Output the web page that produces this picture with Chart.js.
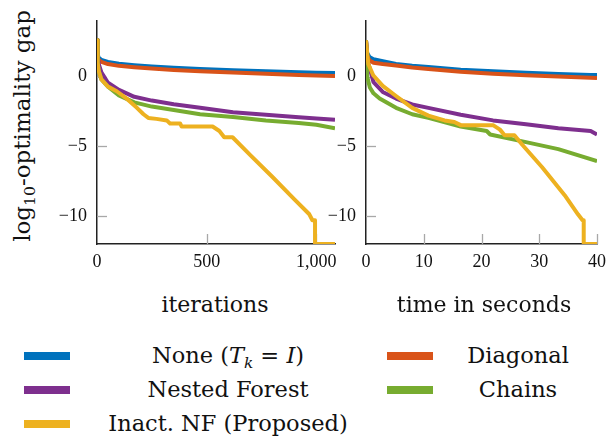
<!DOCTYPE html>
<html>
<head>
<meta charset="utf-8">
<script src="https://cdn.jsdelivr.net/npm/chart.js@4.4.0/dist/chart.umd.min.js"></script>
<style>
  body { margin: 0; width: 613px; height: 440px; background: #fff; position: relative; overflow: hidden; color: #111;
         font-family: 'DejaVu Serif', serif; }
  canvas { position: absolute; top: 0; }
  #ytitle { position: absolute; left: -98px; top: 111px; width: 240px; height: 30px; line-height: 30px;
            font-size: 23px; text-align: center; transform: rotate(-90deg); white-space: nowrap; }
  sub { font-size: 0.68em; vertical-align: -0.3em; line-height: 0; }
  .xtitle { position: absolute; top: 289px; width: 240px; text-align: center; font-size: 22px; line-height: 32px; }
  .lg-line { position: absolute; width: 46px; height: 8px; }
  .lg-text { position: absolute; width: 300px; text-align: center; font-size: 22.5px; line-height: 32px; white-space: nowrap; }
</style>
</head>
<body>
<div id="ytitle">log<sub>10</sub>-optimality gap</div>
<canvas id="iterChart" width="345" height="275" style="left:0"></canvas>
<canvas id="timeChart" width="313" height="275" style="left:300px"></canvas>
<div class="xtitle" style="left:95px">iterations</div>
<div class="xtitle" style="left:364px">time in seconds</div>
<div id="legend"></div>

<script>
// series names and colours
const seriesNames = ["None", "Diagonal", "Nested Forest", "Chains", "Inact. NF (Proposed)"];
const seriesColors = ["#0072BD", "#D95319", "#7E2F8E", "#77AC30", "#EDB120"];

// tick labels
const iterTicks = [0, 500, 1000];
const timeTicks = [0, 10, 20, 30, 40];
const gapTicks = [-10, -5, 0];

// left panel: log10 gap vs iterations
const iterX = [0, 3, 8, 20, 50, 100, 170, 250, 350, 470, 620, 770, 920, 1000, 1085];
const iterNone = [2.6, 1.6, 1.35, 1.2, 1.05, 0.92, 0.82, 0.73, 0.63, 0.54, 0.45, 0.38, 0.31, 0.28, 0.25];
const iterDiag = [2.6, 1.4, 1.2, 1.05, 0.9, 0.77, 0.67, 0.58, 0.48, 0.39, 0.29, 0.2, 0.12, 0.08, 0.05];
const iterNF = [2.6, 1.4, 0.9, 0.3, -0.44, -0.95, -1.45, -1.72, -1.98, -2.24, -2.55, -2.73, -2.91, -3.0, -3.1];
const iterChains = [2.6, 1.0, 0.4, -0.2, -0.72, -1.35, -1.85, -2.15, -2.4, -2.7, -2.9, -3.14, -3.32, -3.45, -3.7];
const iterInactX = [0, 3, 8, 20, 50, 90, 137, 182, 212, 234, 271, 318, 333, 379, 386, 527, 558, 580, 618, 700, 800, 900, 968, 982, 994, 994, 1085];
const iterInact = [2.6, 1.0, 0.4, -0.2, -0.72, -1.05, -1.6, -2.24, -2.7, -2.96, -3.03, -3.14, -3.36, -3.36, -3.58, -3.58, -3.9, -4.35, -4.35, -5.65, -7.2, -8.8, -9.87, -10.3, -10.3, -12, -12];

// right panel: log10 gap vs time in seconds
const timeX = [0, 0.2, 0.6, 1.3, 2.9, 5.2, 8, 10.8, 16.4, 22, 27.7, 33.3, 38.9, 40];
const timeNone = [2.6, 1.7, 1.4, 1.25, 1.1, 0.9, 0.77, 0.68, 0.5, 0.38, 0.27, 0.19, 0.12, 0.11];
const timeDiag = [2.6, 1.5, 1.15, 1.0, 0.9, 0.79, 0.65, 0.55, 0.34, 0.2, 0.09, 0.0, -0.08, -0.1];
const timeNF = [2.6, 1.2, 0.67, -0.4, -1.1, -1.57, -2.0, -2.24, -2.73, -3.14, -3.41, -3.7, -3.9, -4.15];
const timeChainsX = [0, 0.2, 0.67, 1.3, 2.36, 5.2, 8, 10.8, 16.4, 20.9, 21.5, 27.7, 33.3, 40];
const timeChains = [2.6, 0, -0.78, -1.2, -1.57, -2.24, -2.7, -2.96, -3.58, -3.9, -4.15, -4.7, -5.2, -6.06];
const timeInactX = [0, 0.4, 1.25, 2.9, 5.2, 8, 10.8, 13.6, 15.3, 16.4, 22, 23.2, 24, 25.7, 27.1, 30.5, 34.4, 36.7, 37.5, 37.7, 37.7, 40];
const timeInact = [2.6, 0.9, 0.1, -0.67, -1.39, -2.24, -2.8, -3.14, -3.25, -3.48, -3.48, -3.8, -4.2, -4.2, -4.9, -6.5, -8.5, -9.87, -10.3, -10.3, -12, -12];

// Liberation Serif stays a true serif at this small size
const tickFont = { family: "'Liberation Serif', serif", size: 18 };

function pts(xs, ys) {
  return xs.map((x, i) => ({ x: x, y: ys[i] }));
}

function minusFmt(v) {
  return v < 0 ? "\u2212" + Math.abs(v) : String(v);
}

// short grey ticks pointing into the plot
const inwardTicks = {
  id: "inwardTicks",
  beforeDatasetsDraw(chart) {
    const { ctx, chartArea: a, scales: { x, y } } = chart;
    ctx.save();
    ctx.strokeStyle = "#a8a8a8";
    ctx.lineWidth = 1.3;
    x.ticks.forEach(t => {
      if (t.value === x.min) return;
      const px = Math.round(x.getPixelForValue(t.value)) + 0.5;
      ctx.beginPath();
      ctx.moveTo(px, a.bottom);
      ctx.lineTo(px, a.bottom - 10);
      ctx.stroke();
    });
    y.ticks.forEach(t => {
      if (t.value === y.min) return;
      const py = Math.round(y.getPixelForValue(t.value)) + 0.5;
      ctx.beginPath();
      ctx.moveTo(a.left, py);
      ctx.lineTo(a.left + 10, py);
      ctx.stroke();
    });
    ctx.restore();
  }
};

function makeDatasets(list) {
  // drawn in reverse so that the last series ends up on top
  return list.map((d, i) => ({
    label: seriesNames[i],
    data: d,
    borderColor: seriesColors[i],
    backgroundColor: seriesColors[i],
    borderWidth: 4,
    pointRadius: 0,
    fill: false,
    tension: 0,
    clip: 0,
    borderJoinStyle: "round",
    borderCapStyle: "butt"
  })).reverse();
}

function makeChart(id, datasets, xMax, xTicks, yWidth, xFmt) {
  return new Chart(document.getElementById(id), {
    type: "line",
    data: { datasets: datasets },
    plugins: [inwardTicks],
    options: {
      responsive: false,
      animation: false,
      devicePixelRatio: 1,
      layout: { padding: { top: 8, right: 10, left: 0, bottom: 0 } },
      plugins: { legend: { display: false }, tooltip: { enabled: false } },
      scales: {
        x: {
          type: "linear",
          min: 0,
          max: xMax,
          afterBuildTicks: s => { s.ticks = xTicks.map(v => ({ value: v })); },
          afterFit: s => { s.height = 31; },
          grid: { display: false, drawTicks: false },
          border: { display: true, color: "#222", width: 1.5 },
          ticks: {
            padding: 7,
            color: "#111",
            maxRotation: 0,
            font: tickFont,
            callback: v => xFmt(v)
          }
        },
        y: {
          min: -12,
          max: 4,
          afterBuildTicks: s => { s.ticks = gapTicks.map(v => ({ value: v })); },
          afterFit: s => { s.width = yWidth; },
          grid: { display: false, drawTicks: false },
          border: { display: true, color: "#222", width: 1.5 },
          ticks: {
            padding: 10,
            color: "#111",
            font: tickFont,
            callback: v => minusFmt(v)
          }
        }
      }
    }
  });
}

makeChart("iterChart", makeDatasets([
  pts(iterX, iterNone),
  pts(iterX, iterDiag),
  pts(iterX, iterNF),
  pts(iterX, iterChains),
  pts(iterInactX, iterInact)
]), 1085, iterTicks, 97, v => v.toLocaleString("en-US"));

makeChart("timeChart", makeDatasets([
  pts(timeX, timeNone),
  pts(timeX, timeDiag),
  pts(timeX, timeNF),
  pts(timeChainsX, timeChains),
  pts(timeInactX, timeInact)
]), 40, timeTicks, 66, v => String(v));

// legend: two columns, text centred in each column
const legendHtml = [
  "None (<i>T</i><sub><i>k</i></sub> = <i>I</i>)",
  "Diagonal",
  "Nested Forest",
  "Chains",
  "Inact. NF (Proposed)"
];
const legendBox = document.getElementById("legend");
legendHtml.forEach((txt, i) => {
  const col = i === 4 ? 0 : i % 2;
  const row = i === 4 ? 2 : Math.floor(i / 2);
  const cy = 356 + row * 34;
  const lineX = col === 0 ? 24 : 387;
  const textCx = col === 0 ? 228 : 518;
  const line = document.createElement("div");
  line.className = "lg-line";
  line.style.left = lineX + "px";
  line.style.top = (cy - 4) + "px";
  line.style.background = seriesColors[i];
  const text = document.createElement("div");
  text.className = "lg-text";
  text.style.left = (textCx - 150) + "px";
  text.style.top = (cy - 17) + "px";
  text.innerHTML = txt;
  legendBox.appendChild(line);
  legendBox.appendChild(text);
});
</script>
</body>
</html>
